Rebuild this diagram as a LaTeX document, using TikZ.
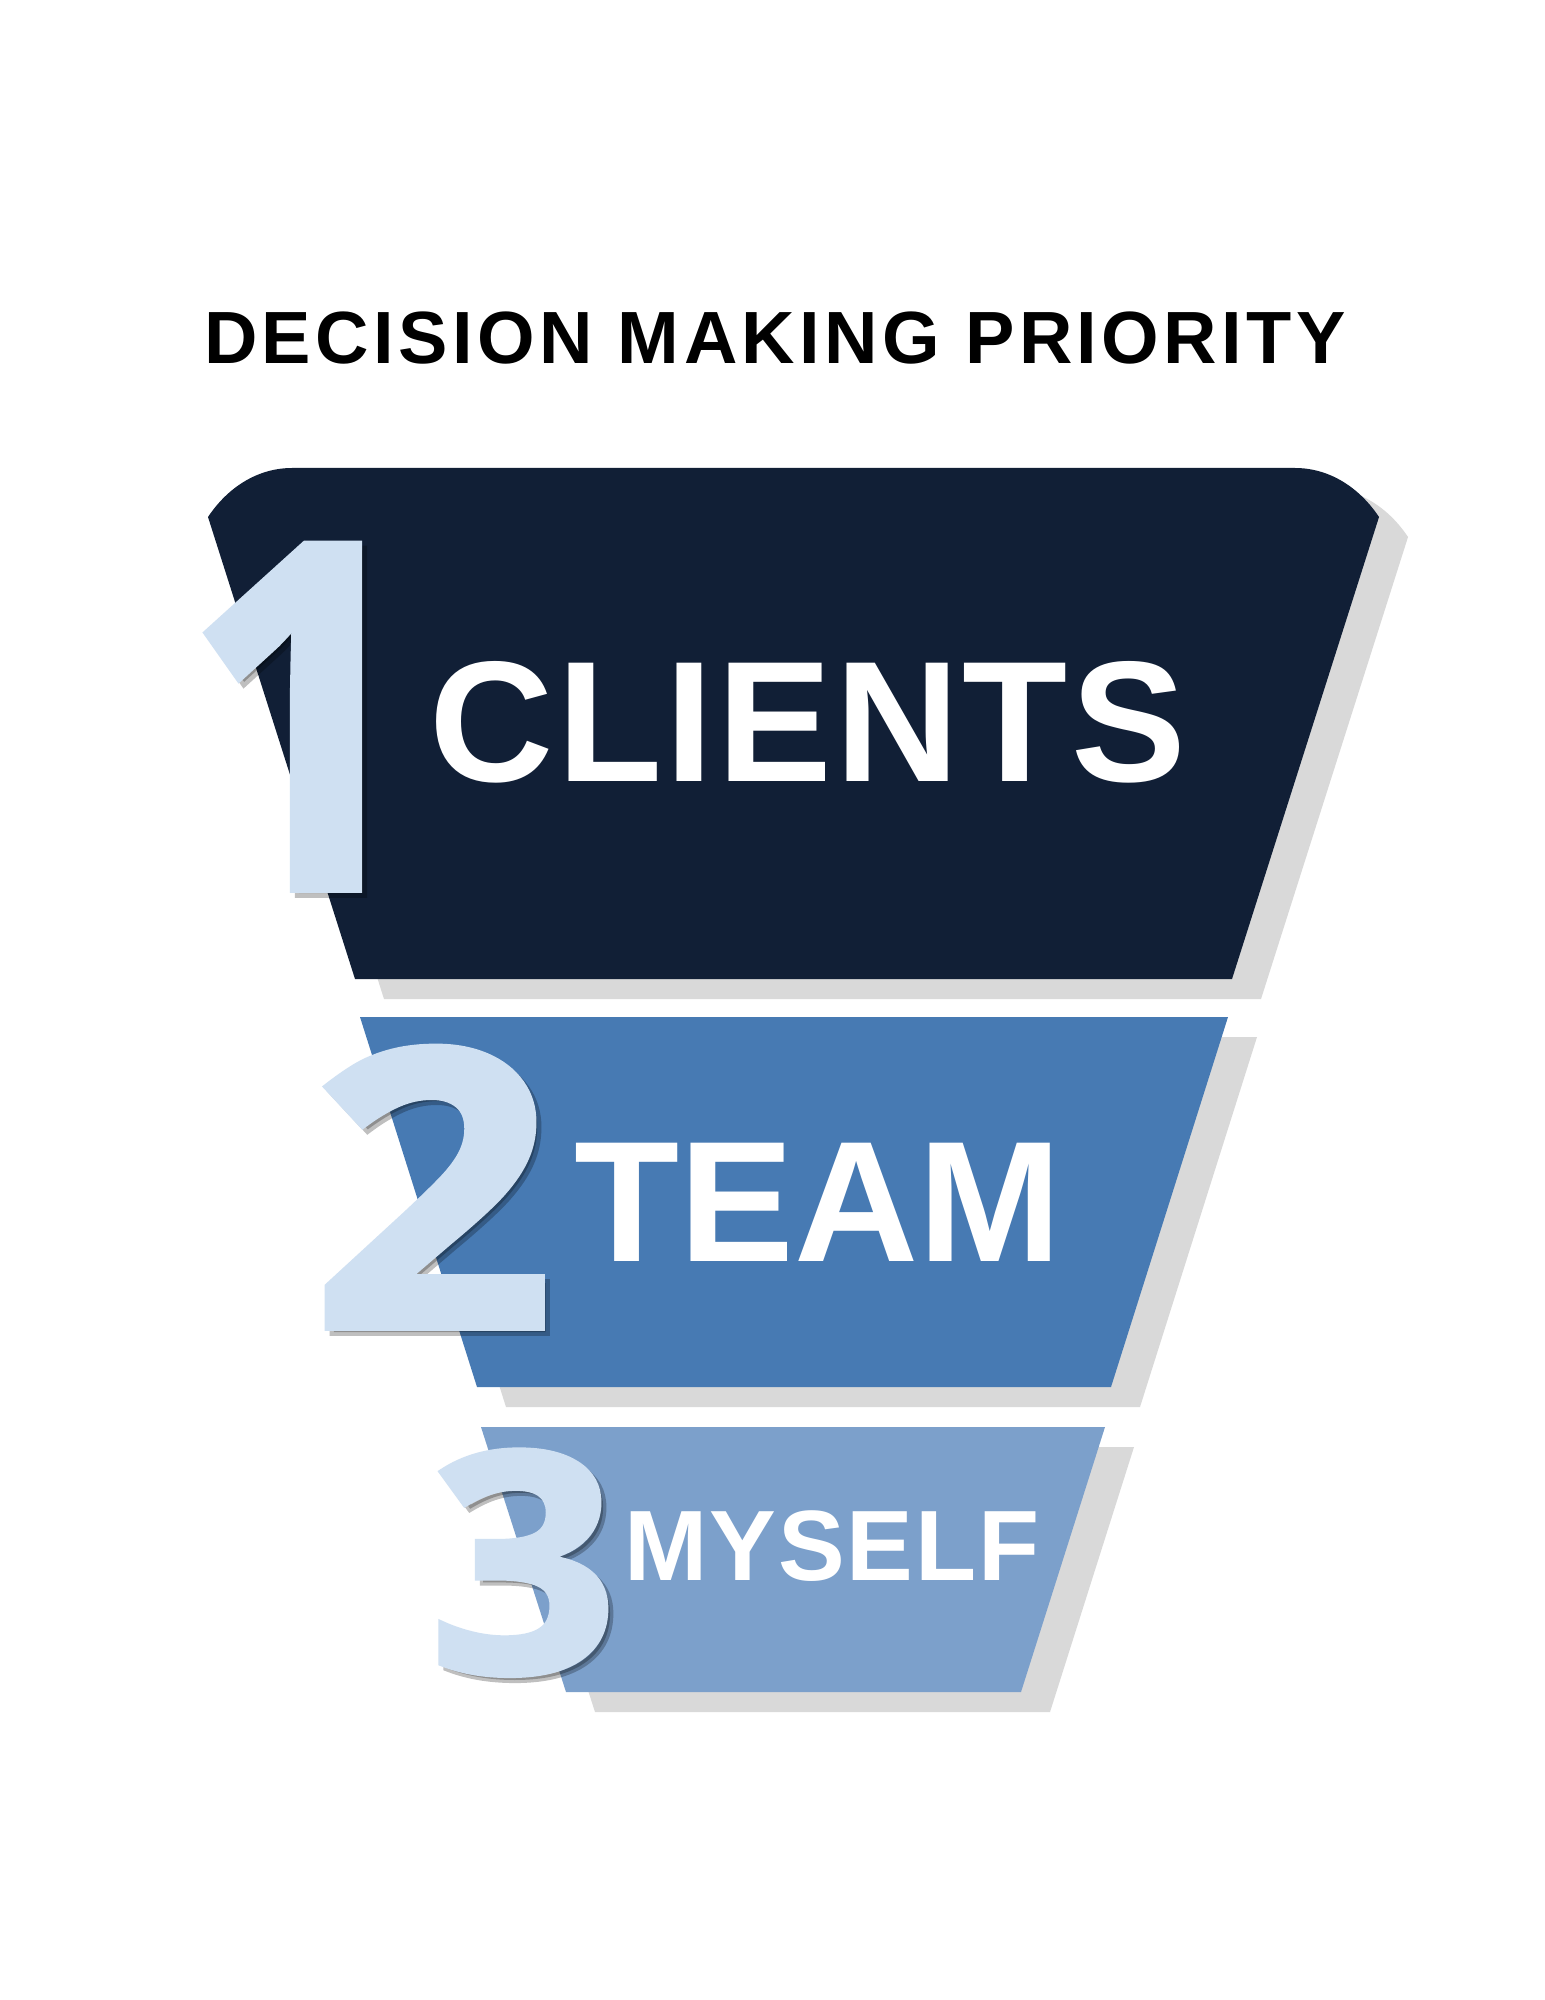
\documentclass[tikz,border=0pt]{standalone}
\usepackage{fontspec}
\setmainfont{Liberation Sans}
\newfontfamily\titlefont{Liberation Sans}[LetterSpace=6]
\newfontfamily\labelfont{Liberation Sans}[LetterSpace=2]
\newfontfamily\teamfont{Liberation Sans}
\newfontfamily\digitfont{Open Sans}[BoldFeatures={FakeBold=2}]
\definecolor{navy}{HTML}{111F36}
\definecolor{midblue}{HTML}{477AB3}
\definecolor{lightblue}{HTML}{7CA0CB}
\definecolor{digitcol}{HTML}{CFE0F2}
\definecolor{shadowgrey}{HTML}{D9D9D9}
\tikzset{
  shadowshape/.style={fill=shadowgrey, draw=none},
  titletext/.style={anchor=base, inner sep=0pt, text=black, font=\titlefont\bfseries\fontsize{37pt}{40pt}\selectfont},
  bigtext/.style={anchor=base, inner sep=0pt, text=white},
  digit/.style={anchor=base, inner sep=0pt, text=digitcol},
  digitshadow/.style={anchor=base, inner sep=0pt, text=black, opacity=0.25},
}
\begin{document}
\begin{tikzpicture}[x=0.5pt, y=-0.5pt]
\useasboundingbox (0,0) rectangle (1545,2000);
\fill[white] (0,0) rectangle (1545,2000);

% title
\node[titletext] (title) at (775,364) {DECISION MAKING PRIORITY};

% tier 1
\begin{scope}[shift={(29,20)}]
\fill[shadowshape] (208,517) .. controls (228,487) and (258,468) .. (292,468) -- (1295,468) .. controls (1329,468) and (1359,487) .. (1379,517) -- (1232,979) -- (355,979) -- cycle;
\end{scope}
\fill[navy] (208,517) .. controls (228,487) and (258,468) .. (292,468) -- (1295,468) .. controls (1329,468) and (1359,487) .. (1379,517) -- (1232,979) -- (355,979) -- cycle;

% tier 2
\fill[shadowshape] (389,1037) -- (1257,1037) -- (1140,1407) -- (506,1407) -- cycle;
\fill[midblue] (360,1017) -- (1228,1017) -- (1111,1387) -- (477,1387) -- cycle;

% tier 3
\fill[shadowshape] (510,1447) -- (1134,1447) -- (1050,1712) -- (595,1712) -- cycle;
\fill[lightblue] (481,1427) -- (1105,1427) -- (1021,1692) -- (566,1692) -- cycle;

% labels
\node[bigtext, font=\labelfont\bfseries\fontsize{86pt}{90pt}\selectfont] (clients) at (808,781) {CLIENTS};
\node[bigtext, font=\teamfont\bfseries\fontsize{86pt}{90pt}\selectfont] (team) at (818,1261) {TEAM};
\node[bigtext, font=\labelfont\bfseries\fontsize{50pt}{54pt}\selectfont] (myself) at (832,1580) {MYSELF};

% digits
\node[digitshadow, font=\digitfont\bfseries\fontsize{240pt}{250pt}\selectfont] (oneshadow) at (309,893) {\scalebox{0.88}[1]{1}};
\node[digit, font=\digitfont\bfseries\fontsize{240pt}{250pt}\selectfont] (one) at (304,888) {\scalebox{0.88}[1]{1}};
\node[digitshadow, font=\digitfont\bfseries\fontsize{193pt}{200pt}\selectfont] (twoshadow) at (438,1332) {\scalebox{1.1}[1]{2}};
\node[digit, font=\digitfont\bfseries\fontsize{193pt}{200pt}\selectfont] (two) at (433,1327) {\scalebox{1.1}[1]{2}};
\node[digitshadow, font=\digitfont\bfseries\fontsize{153pt}{160pt}\selectfont] (threeshadow) at (528.5,1677) {\scalebox{1.08}[1]{3}};
\node[digit, font=\digitfont\bfseries\fontsize{153pt}{160pt}\selectfont] (three) at (523.5,1672) {\scalebox{1.08}[1]{3}};
\end{tikzpicture}
\end{document}
